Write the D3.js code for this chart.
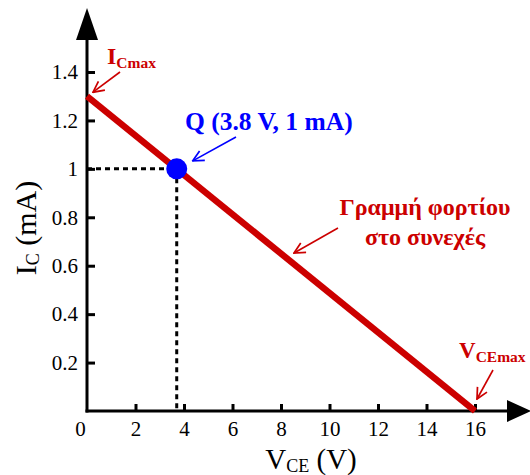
<html>
<head>
<meta charset="utf-8">
<script src="https://d3js.org/d3.v7.min.js"></script>
<style>
body { margin: 0; background: #fff; }
svg { display: block; }
svg text { font-family: "Liberation Serif", "DejaVu Serif", serif; }
</style>
</head>
<body>
<div id="chart"></div>
<script>
// data
var vceTicks = [0, 2, 4, 6, 8, 10, 12, 14, 16];
var icTicks = [0.2, 0.4, 0.6, 0.8, 1, 1.2, 1.4];
var loadV = [0, 16];        // V_CE (V)
var loadI = [1.3, 0];       // I_C (mA)
var qV = 3.7, qI = 1;       // plotted operating point
var qLabel = "Q (3.8 V, 1 mA)";
var lineLabel = ["Γραμμή φορτίου", "στο συνεχές"];

var W = 530, H = 475;
var red = "#cc0000", blue = "#0000ff";

var svg = d3.select("#chart").append("svg")
  .attr("width", W).attr("height", H);

var x = d3.scaleLinear().domain([0, 16]).range([87, 475]);
var y = d3.scaleLinear().domain([0, 1.4]).range([411, 72]);

// arrow heads
var defs = svg.append("defs");
[["red", red], ["blue", blue]].forEach(function(m) {
  defs.append("marker")
    .attr("id", "arr-" + m[0])
    .attr("viewBox", "0 0 12 12")
    .attr("refX", 11).attr("refY", 6)
    .attr("markerWidth", 13).attr("markerHeight", 13)
    .attr("markerUnits", "userSpaceOnUse")
    .attr("orient", "auto")
    .append("path")
    .attr("d", "M1,1 L11,6 L1,11")
    .attr("fill", "none")
    .attr("stroke", m[1])
    .attr("stroke-width", 1.6);
});

// axes
var xAxis = d3.axisBottom(x).tickValues(vceTicks)
  .tickSizeInner(-7).tickSizeOuter(0).tickPadding(10)
  .tickFormat(d3.format("d"));
var gx = svg.append("g").attr("transform", "translate(0," + y(0) + ")").call(xAxis);
gx.select(".domain").remove();
gx.selectAll(".tick line").attr("stroke", "#000").attr("stroke-width", 3)
  .attr("display", function(d) { return d === 0 ? "none" : null; });
gx.selectAll(".tick text")
  .attr("font-size", 21)
  .attr("fill", "#000")
  .attr("x", function(d) { return d === 0 ? -7 : 0; });

var yAxis = d3.axisLeft(y).tickValues(icTicks)
  .tickSizeInner(-8).tickSizeOuter(0).tickPadding(9)
  .tickFormat(function(d) { return d3.format("~g")(d); });
var gy = svg.append("g").attr("transform", "translate(" + x(0) + ",0)").call(yAxis);
gy.select(".domain").remove();
gy.selectAll(".tick line").attr("stroke", "#000").attr("stroke-width", 3);
gy.selectAll(".tick text")
  .attr("font-size", 21)
  .attr("fill", "#000");

// axis lines with solid arrows
svg.append("line").attr("x1", x(0)).attr("y1", y(0) + 1.5).attr("x2", x(0)).attr("y2", 39)
  .attr("stroke", "#000").attr("stroke-width", 3);
svg.append("path").attr("d", "M76,40 L98,40 L87,8 Z").attr("fill", "#000");
svg.append("line").attr("x1", x(0) - 1.5).attr("y1", y(0)).attr("x2", 508).attr("y2", y(0))
  .attr("stroke", "#000").attr("stroke-width", 3);
svg.append("path").attr("d", "M507,400 L507,422 L531,411 Z").attr("fill", "#000");

// axis titles
var xt = svg.append("text").attr("x", 311).attr("y", 469)
  .attr("text-anchor", "middle").attr("font-size", 29);
xt.append("tspan").text("V");
xt.append("tspan").attr("font-size", 18).attr("dy", 3).text("CE");
xt.append("tspan").attr("dy", -3).text(" (V)");

var yt = svg.append("text").attr("transform", "translate(36,228) rotate(-90)")
  .attr("text-anchor", "middle").attr("font-size", 30);
yt.append("tspan").text("I");
yt.append("tspan").attr("font-size", 18).attr("dy", 3).text("C");
yt.append("tspan").attr("dy", -3).text(" (mA)");

// dotted guides to Q
svg.append("path")
  .attr("d", "M" + x(0) + "," + y(qI) + " H" + x(qV) + " V" + y(0))
  .attr("fill", "none").attr("stroke", "#000")
  .attr("stroke-width", 3).attr("stroke-dasharray", "5,4");

// load line
var line = d3.line().x(function(d) { return x(d[0]); }).y(function(d) { return y(d[1]); });
svg.append("path")
  .datum(d3.zip(loadV, loadI))
  .attr("d", line)
  .attr("fill", "none").attr("stroke", red).attr("stroke-width", 6.5);

// Q point
svg.append("circle").attr("cx", x(qV)).attr("cy", y(qI)).attr("r", 10.5).attr("fill", blue);

// annotations
function arrow(x1, y1, x2, y2, c) {
  svg.append("line").attr("x1", x1).attr("y1", y1).attr("x2", x2).attr("y2", y2)
    .attr("stroke", c === "red" ? red : blue).attr("stroke-width", 1.6)
    .attr("marker-end", "url(#arr-" + c + ")");
}

var ic = svg.append("text").attr("x", 107).attr("y", 63.5)
  .attr("fill", red).attr("font-weight", "bold").attr("font-size", 24);
ic.append("tspan").text("I");
ic.append("tspan").attr("font-size", 15.5).attr("dy", 4.5).text("Cmax");
arrow(120, 72, x(0) + 6, y(loadI[0]) - 4, "red");

svg.append("text").attr("x", 185).attr("y", 129.5)
  .attr("fill", blue).attr("font-weight", "bold").attr("font-size", 25.5)
  .text(qLabel);
arrow(236, 137, x(qV) + 16, y(qI) - 8, "blue");

svg.selectAll(".ll").data(lineLabel).enter().append("text")
  .attr("class", "ll")
  .attr("x", 425).attr("y", function(d, i) { return 215 + i * 30; })
  .attr("text-anchor", "middle")
  .attr("fill", red).attr("font-weight", "bold").attr("font-size", 24)
  .text(function(d) { return d; });
arrow(338, 228, 294, 253, "red");

var vc = svg.append("text").attr("x", 459).attr("y", 357.5)
  .attr("fill", red).attr("font-weight", "bold").attr("font-size", 23);
vc.append("tspan").text("V");
vc.append("tspan").attr("font-size", 15.5).attr("dy", 4.5).text("CEmax");
arrow(493, 370, x(loadV[1]) + 2, y(0) - 12, "red");
</script>
</body>
</html>
